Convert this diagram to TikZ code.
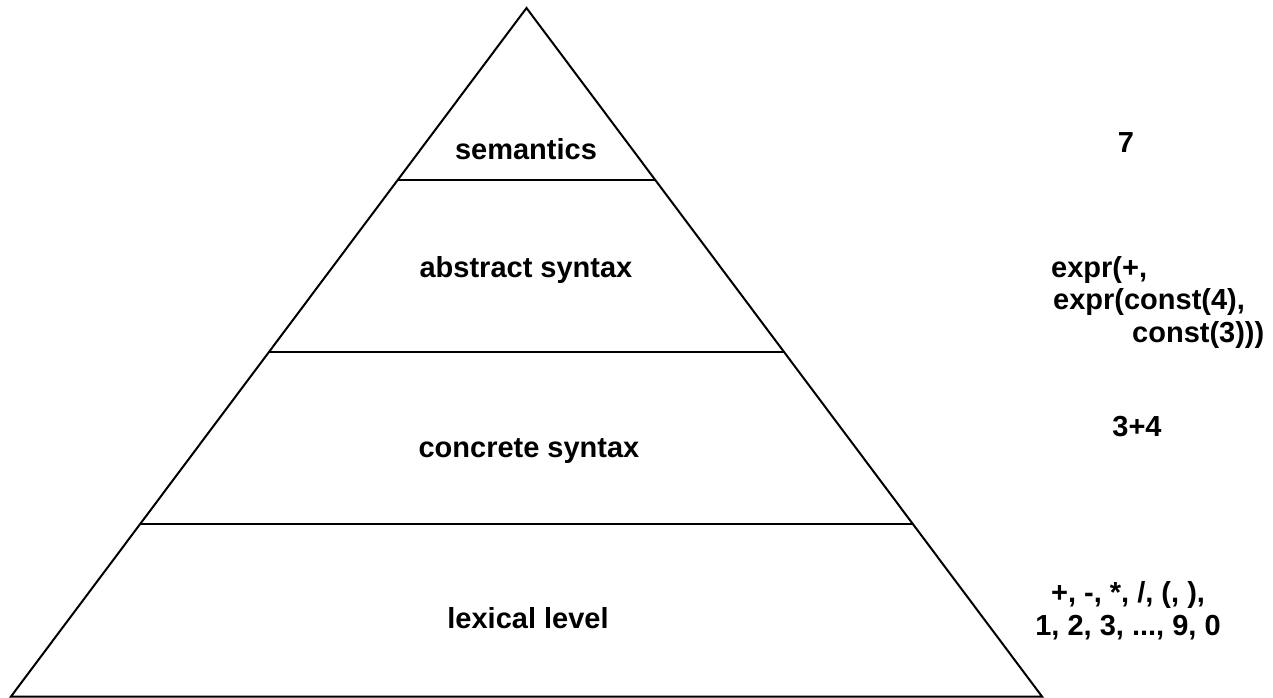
\documentclass[tikz,border=0pt]{standalone}
\usepackage{fontspec}
\setmainfont{Liberation Sans}
\usetikzlibrary{calc}
\tikzset{
  edge/.style={draw=black, line width=2pt, line join=miter},
  lbl/.style={font=\bfseries\fontsize{29}{32.5}\selectfont, inner sep=0pt, text=black},
}
\begin{document}
\begin{tikzpicture}[x=1pt,y=-1pt]
\useasboundingbox (0,0) rectangle (1273,698);
\coordinate (A) at (526.5,8);
\coordinate (BL) at (11,696.5);
\coordinate (BR) at (1042,696.5);
\draw[edge] (BL) -- (A) -- (BR) -- cycle;
\coordinate (L1) at ($(A)!0.25!(BL)$);
\coordinate (R1) at ($(A)!0.25!(BR)$);
\coordinate (L2) at ($(A)!0.5!(BL)$);
\coordinate (R2) at ($(A)!0.5!(BR)$);
\coordinate (L3) at ($(A)!0.75!(BL)$);
\coordinate (R3) at ($(A)!0.75!(BR)$);
\draw[edge] (L1) -- (R1);
\draw[edge] (L2) -- (R2);
\draw[edge] (L3) -- (R3);
\node[lbl, anchor=base] (sem) at (526,159) {semantics};
\node[lbl, anchor=base] (abs) at (526,277) {abstract syntax};
\node[lbl, anchor=base] (con) at (529,457) {concrete syntax};
\node[lbl, anchor=base] (lex) at (528,628) {lexical level};
\node[lbl, anchor=base] (v7) at (1126,152) {7};
\node[lbl, anchor=base west, align=left] (ast) at (1051,342) {expr(+,\\\hspace*{2pt}expr(const(4),\\\hspace*{81pt}const(3)))};
\node[lbl, anchor=base] (cst) at (1137,436) {3+4};
\node[lbl, anchor=base, align=center] (tok) at (1128,635) {+, -, *, /, (, ),\\1, 2, 3, ..., 9, 0};
\end{tikzpicture}
\end{document}
